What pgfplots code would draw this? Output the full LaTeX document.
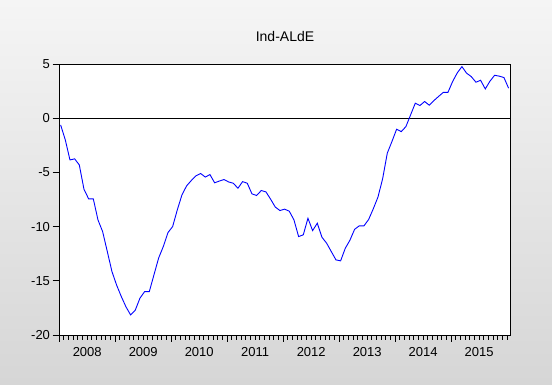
\documentclass[border=0pt]{standalone}
\usepackage{fontspec}
\setmainfont{Liberation Sans}
\usepackage{pgfplots}
\pgfplotsset{compat=1.18}
\definecolor{bgtop}{HTML}{F5F5F5}
\definecolor{bgbot}{HTML}{D6D6D6}
\begin{document}
\begin{tikzpicture}[x=1pt,y=1pt]
\path[use as bounding box] (0,0) rectangle (552,384);
\shade[top color=bgtop, bottom color=bgbot] (0,0) rectangle (552,384);
\begin{axis}[
  at={(59pt,49pt)}, anchor=south west,
  width=451pt, height=271pt, scale only axis,
  xmin=0.65, xmax=97.3, ymin=-20, ymax=5,
  axis background/.style={fill=white},
  axis line style={black, line width=1pt},
  xtick={0.7,12.7,24.7,36.7,48.7,60.7,72.7,84.7},
  xticklabels={},
  minor xtick={0.7,1.7,...,96.7},
  extra x ticks={6.7,18.7,30.7,42.7,54.7,66.7,78.7,90.7},
  extra x tick labels={2008,2009,2010,2011,2012,2013,2014,2015},
  extra x tick style={major tick length=0pt, tick label style={yshift=-9pt}},
  ytick={-20,-15,-10,-5,0,5},
  yticklabels={-20,-15,-10,-5,0,5},
  tick align=outside,
  xtick pos=bottom, ytick pos=left,
  major tick length=6.5pt, minor tick length=4.5pt,
  tick style={black, line width=0.8pt},
  ticklabel style={font=\fontsize{13}{15}\selectfont},
  yticklabel style={xshift=1pt},
  clip=false,
]
\addplot[black, line width=0.9pt, forget plot] coordinates {(0.65,0) (97.3,0)};
\addplot[blue, line width=0.9pt, mark=none] coordinates {
(1,-0.62) (2,-2.0) (3,-3.85) (4,-3.75) (5,-4.31) (6,-6.55) (7,-7.44) (8,-7.44)
(9,-9.38) (10,-10.46) (11,-12.3) (12,-14.15) (13,-15.4) (14,-16.45) (15,-17.4) (16,-18.15)
(17,-17.7) (18,-16.6) (19,-16.0) (20,-16.0) (21,-14.45) (22,-12.9) (23,-11.84) (24,-10.55)
(25,-10.0) (26,-8.46) (27,-7.07) (28,-6.24) (29,-5.75) (30,-5.32) (31,-5.1) (32,-5.43)
(33,-5.2) (34,-5.96) (35,-5.8) (36,-5.66) (37,-5.88) (38,-6.0) (39,-6.46) (40,-5.85)
(41,-6.0) (42,-6.98) (43,-7.13) (44,-6.67) (45,-6.8) (46,-7.47) (47,-8.2) (48,-8.52)
(49,-8.39) (50,-8.58) (51,-9.38) (52,-10.92) (53,-10.76) (54,-9.23) (55,-10.37) (56,-9.69)
(57,-10.98) (58,-11.53) (59,-12.3) (60,-13.07) (61,-13.16) (62,-12.0) (63,-11.25) (64,-10.25)
(65,-9.93) (66,-9.93) (67,-9.35) (68,-8.36) (69,-7.28) (70,-5.6) (71,-3.23) (72,-2.15)
(73,-1.02) (74,-1.24) (75,-0.77) (76,0.31) (77,1.38) (78,1.17) (79,1.54) (80,1.2)
(81,1.63) (82,2.01) (83,2.38) (84,2.38) (85,3.38) (86,4.18) (87,4.76) (88,4.15)
(89,3.84) (90,3.32) (91,3.5) (92,2.7) (93,3.41) (94,3.96) (95,3.88) (96,3.75)
(97,2.77)
};
\end{axis}
\node[font=\fontsize{14}{16}\selectfont] at (285,348) {Ind-ALdE};
\end{tikzpicture}
\end{document}
